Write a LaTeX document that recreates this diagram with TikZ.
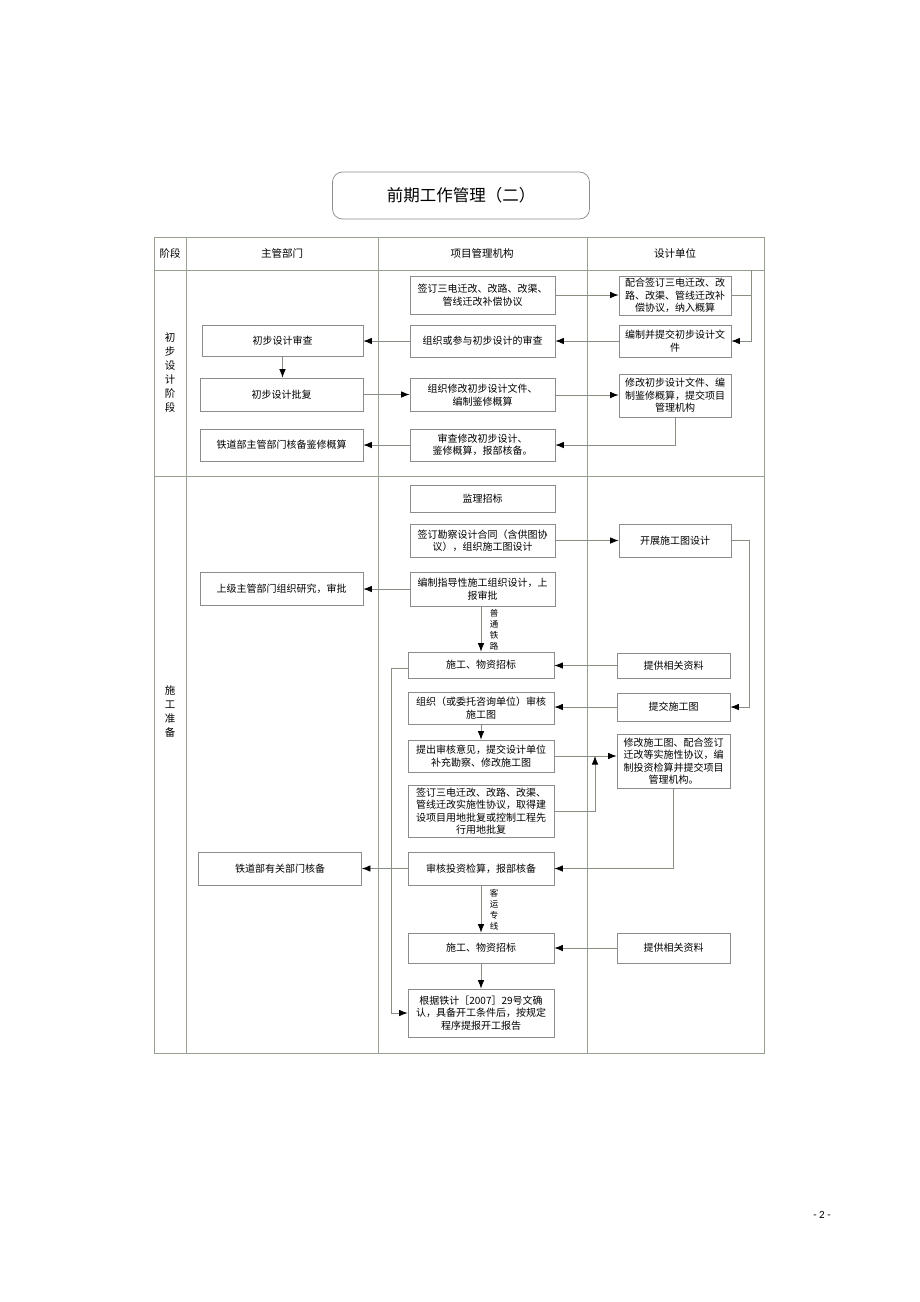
\documentclass[tikz,border=0pt]{standalone}
\usepackage{fontspec}
\setmainfont{Noto Sans CJK SC}
\newfontfamily\pagefont{Carlito}
\usetikzlibrary{arrows.meta}
\definecolor{framegray}{RGB}{150,160,142}
\definecolor{boxgray}{RGB}{140,140,140}
\definecolor{linegray}{RGB}{135,143,130}

\begin{document}
\begin{tikzpicture}[x=1pt, y=-1pt,
  box/.style={draw=boxgray, line width=0.75pt, fill=white, inner sep=0pt, align=center,
    font=\fontsize{10}{12.5}\selectfont},
  conn/.style={draw=linegray, line width=0.75pt, -{Latex[length=8.5pt,width=6.5pt,color=black]}},
  plain/.style={draw=linegray, line width=0.75pt},
  stage/.style={align=center, font=\fontsize{10.5}{14}\selectfont},
  vlabel/.style={align=center, font=\fontsize{8.5}{11}\selectfont}]

\useasboundingbox (0,0) rectangle (920,1302);

% title
\node[draw=boxgray, line width=0.75pt, rounded corners=10pt, minimum width=257, minimum height=47,
  font=\fontsize{16.5}{18}\selectfont] (title) at (461,195.5) {前期工作管理（二）};

% table frame
\begin{scope}[draw=framegray, line width=0.75pt]
\draw (154,237) rectangle (764,1053);
\draw (186,237) -- (186,1053);
\draw (378,237) -- (378,1053);
\draw (587,237) -- (587,1053);
\draw (154,270) -- (764,270);
\draw (154,476) -- (764,476);
\end{scope}

\begin{scope}[font=\fontsize{10.5}{12}\selectfont]
\node (h0) at (170,253) {阶段};
\node (h1) at (282,253) {主管部门};
\node (h2) at (482,253) {项目管理机构};
\node (h3) at (675,253) {设计单位};
\end{scope}

\node[stage] (s1) at (170,373) {初\\步\\设\\计\\阶\\段};
\node[stage] (s2) at (170,711) {施\\工\\准\\备};

% 主管部门
\node[box, minimum width=161, minimum height=31] (l1) at (282.5,340.5) {初步设计审查};
\node[box, minimum width=163, minimum height=33] (l2) at (281.5,394.5) {初步设计批复};
\node[box, minimum width=163, minimum height=32] (l3) at (281.5,445) {铁道部主管部门核备鉴修概算};
\node[box, minimum width=163, minimum height=33] (l4) at (281.5,589) {上级主管部门组织研究，审批};
\node[box, minimum width=163, minimum height=33] (l5) at (280,868.5) {铁道部有关部门核备};

% 项目管理机构
\node[box, minimum width=145, minimum height=38] (m1) at (482.5,295) {签订三电迁改、改路、改渠、\\管线迁改补偿协议};
\node[box, minimum width=145, minimum height=32] (m2) at (482.5,341) {组织或参与初步设计的审查};
\node[box, minimum width=145, minimum height=33] (m3) at (482.5,395) {组织修改初步设计文件、\\编制鉴修概算};
\node[box, minimum width=145, minimum height=32] (m4) at (482.5,445) {审查修改初步设计、\\鉴修概算，报部核备。};
\node[box, minimum width=145, minimum height=27] (m5) at (482.5,498.5) {监理招标};
\node[box, minimum width=145, minimum height=33] (m6) at (482.5,540.5) {签订勘察设计合同（含供图协\\议），组织施工图设计};
\node[box, minimum width=145, minimum height=34] (m7) at (482.5,589) {编制指导性施工组织设计，上\\报审批};
\node[box, minimum width=146, minimum height=26] (m8) at (481,665) {施工、物资招标};
\node[box, minimum width=146, minimum height=32] (m9) at (481,708) {组织（或委托咨询单位）审核\\施工图};
\node[box, minimum width=146, minimum height=32] (m10) at (481,756) {提出审核意见，提交设计单位\\补充勘察、修改施工图};
\node[box, minimum width=146, minimum height=52] (m11) at (481,811) {签订三电迁改、改路、改渠、\\管线迁改实施性协议，取得建\\设项目用地批复或控制工程先\\行用地批复};
\node[box, minimum width=146, minimum height=33] (m12) at (481,868.5) {审核投资检算，报部核备};
\node[box, minimum width=146, minimum height=30] (m13) at (481,948) {施工、物资招标};
\node[box, minimum width=146, minimum height=48] (m14) at (481,1013) {根据铁计［2007］29号文确\\认，具备开工条件后，按规定\\程序提报开工报告};

% 设计单位
\node[box, minimum width=112, minimum height=39] (r1) at (675,295.5) {配合签订三电迁改、改\\路、改渠、管线迁改补\\偿协议，纳入概算};
\node[box, minimum width=112, minimum height=32] (r2) at (675,341) {编制并提交初步设计文\\件};
\node[box, minimum width=112, minimum height=43] (r3) at (675,395.5) {修改初步设计文件、编\\制鉴修概算，提交项目\\管理机构};
\node[box, minimum width=112, minimum height=33] (r4) at (675,540.5) {开展施工图设计};
\node[box, minimum width=113, minimum height=25] (r5) at (673.5,665.5) {提供相关资料};
\node[box, minimum width=113, minimum height=28] (r6) at (673.5,707) {提交施工图};
\node[box, minimum width=113, minimum height=54] (r7) at (673.5,761) {修改施工图、配合签订\\迁改等实施性协议，编\\制投资检算并提交项目\\管理机构。};
\node[box, minimum width=113, minimum height=30] (r8) at (673.5,948) {提供相关资料};

\coordinate (c1) at (751,270);
\coordinate (c2) at (595,756);

\node[vlabel] (t1) at (494,630) {普\\通\\铁\\路};
\node[vlabel] (t2) at (494,910) {客\\运\\专\\线};

\draw[plain] (r1.east) -- (r1.east -| c1); %r1-c1
\draw[conn] (c1) |- (r2.east); %c1-r2
\draw[conn] (m1.east) -- (m1.east -| r1.west); %m1-r1
\draw[conn] (r2.west) -- (m2.east); %r2-m2
\draw[conn] (m2.west) -- (m2.west -| l1.east); %m2-l1
\draw[conn] (l1.south) -- (l1.south |- l2.north); %l1-l2
\draw[conn] (l2.east) -- (l2.east -| m3.west); %l2-m3
\draw[conn] (m3.east) -- (m3.east -| r3.west); %m3-r3
\draw[conn] (r3.south) |- (m4.east); %r3-m4
\draw[conn] (m4.west) -- (m4.west -| l3.east); %m4-l3
\draw[conn] (m6.east) -- (m6.east -| r4.west); %m6-r4
\draw[conn] (r4.east) -- ++(18,0) |- (r6.east); %r4-r6
\draw[conn] (m7.west) -- (m7.west -| l4.east); %m7-l4
\draw[conn] (m7.south -| m8.north) -- (m8.north); %m7-m8
\draw[conn] (r5.west) -- (r5.west -| m8.east); %r5-m8
\draw[conn] (r6.west) -- (r6.west -| m9.east); %r6-m9
\draw[conn] (m9.south) -- (m10.north); %m9-m10
\draw[conn] (m10.east) -- (m10.east -| r7.west); %m10-r7
\draw[conn] (m11.east) -| (c2); %m11-c2
\draw[conn] (r7.south) |- (m12.east); %r7-m12
\draw[conn] (m12.west) -- (m12.west -| l5.east); %m12-l5
\draw[conn] (m12.south) -- (m13.north); %m12-m13
\draw[conn] (r8.west) -- (m13.east); %r8-m13
\draw[conn] (m13.south) -- (m14.north); %m13-m14
\draw[conn] ([yshift=-3pt]m8.west) -- ++(-16,0) |- (m14.west); %m8-m14

\node[font=\pagefont\fontsize{11}{13}\selectfont] (pg) at (822,1215) {- 2 -};

\end{tikzpicture}
\end{document}
